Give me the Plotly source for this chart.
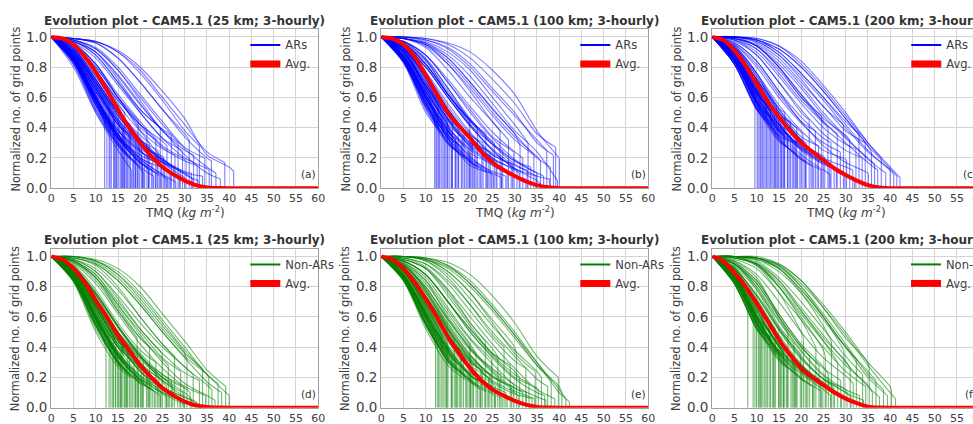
import plotly.graph_objects as go

# ---------------- data ----------------
# Each curve: [x where it drops to 0, y just before the drop, y(5), y(10), y(15), ...]
# (y values sampled every 5 kg m-2 below the drop; every curve starts at y(0)=1)
ar_25 = [
    [12.0,0.45,0.88,0.62],[12.5,0.40,0.85,0.58],[13.0,0.55,0.93,0.70],[13.5,0.35,0.82,0.52],
    [14.0,0.48,0.90,0.66],[14.5,0.30,0.80,0.50],[15.2,0.42,0.92,0.68,0.44],[16.0,0.38,0.87,0.64,0.43],
    [16.5,0.50,0.95,0.78,0.56],[17.0,0.30,0.84,0.57,0.36],[17.8,0.42,0.93,0.72,0.50],[18.0,0.12,0.82,0.50,0.25],
    [18.5,0.25,0.86,0.58,0.35],[19.0,0.35,0.90,0.70,0.48],[19.5,0.45,0.96,0.82,0.60],
    [20.3,0.28,0.88,0.64,0.42,0.29],[20.8,0.10,0.84,0.52,0.28,0.13],[21.0,0.22,0.85,0.60,0.38,0.25],
    [21.5,0.38,0.94,0.78,0.58,0.42],[22.0,0.30,0.91,0.70,0.50,0.35],[22.8,0.18,0.83,0.55,0.33,0.22],
    [23.0,0.08,0.86,0.55,0.30,0.14],[23.5,0.32,0.95,0.80,0.60,0.40],[24.0,0.25,0.92,0.72,0.50,0.32],
    [24.5,0.40,0.98,0.90,0.72,0.52],[25.3,0.20,0.89,0.66,0.44,0.28,0.21],[25.8,0.06,0.87,0.58,0.33,0.17,0.08],
    [26.0,0.28,0.94,0.78,0.58,0.42,0.31],[26.5,0.15,0.86,0.60,0.38,0.24,0.17],[27.0,0.35,0.97,0.88,0.70,0.52,0.39],
    [27.8,0.22,0.93,0.76,0.55,0.38,0.26],[28.0,0.04,0.88,0.60,0.35,0.19,0.09],[28.5,0.30,0.98,0.92,0.78,0.58,0.38],
    [29.0,0.12,0.88,0.64,0.42,0.27,0.17],[29.5,0.25,0.96,0.86,0.68,0.50,0.33],
    [30.3,0.18,0.95,0.82,0.62,0.44,0.28,0.19],[31.0,0.32,0.99,0.96,0.86,0.70,0.52,0.36],
    [31.5,0.10,0.90,0.70,0.48,0.30,0.19,0.11],[32.0,0.22,0.97,0.90,0.75,0.56,0.38,0.25],
    [32.8,0.15,0.94,0.80,0.60,0.42,0.27,0.18],[33.0,0.05,0.95,0.82,0.60,0.38,0.20,0.09],
    [33.3,0.28,0.99,0.97,0.90,0.76,0.58,0.38],[34.0,0.08,0.92,0.74,0.52,0.32,0.18,0.10],
    [34.5,0.20,0.98,0.93,0.80,0.62,0.44,0.27],[35.5,0.12,0.97,0.88,0.70,0.50,0.33,0.20,0.13],
    [36.0,0.18,0.99,0.96,0.86,0.70,0.52,0.34,0.20],[37.0,0.10,0.98,0.92,0.78,0.60,0.42,0.26,0.14],
    [38.0,0.06,0.97,0.90,0.74,0.55,0.38,0.22,0.10],[39.0,0.17,0.99,0.97,0.90,0.78,0.60,0.42,0.24],
    [41.0,0.11,0.99,0.97,0.91,0.80,0.64,0.46,0.22,0.14],
    [13.2,0.42,0.86,0.60],[14.8,0.36,0.85,0.58],[15.6,0.33,0.87,0.60,0.36],[16.8,0.28,0.85,0.57,0.33],
    [17.5,0.36,0.89,0.66,0.42],[18.8,0.22,0.86,0.60,0.34],[19.8,0.30,0.90,0.68,0.45],
    [20.5,0.20,0.87,0.62,0.38,0.22],[21.8,0.26,0.90,0.68,0.46,0.29],[22.5,0.16,0.86,0.60,0.36,0.20],
    [23.8,0.20,0.89,0.66,0.44,0.26],[24.8,0.14,0.87,0.62,0.39,0.20],[25.5,0.16,0.90,0.70,0.48,0.30,0.18],
    [26.8,0.10,0.88,0.64,0.40,0.24,0.14],[27.5,0.13,0.91,0.72,0.50,0.32,0.19],[28.8,0.08,0.89,0.66,0.42,0.25,0.14],
    [30.0,0.07,0.91,0.72,0.50,0.31,0.17],[31.8,0.06,0.92,0.74,0.52,0.33,0.19,0.10],
    [16.2,0.40,0.90,0.70,0.46],[14.2,0.45,0.90,0.68],
    [15.8,0.28,0.84,0.55,0.31],[17.2,0.22,0.83,0.54,0.29],[18.3,0.18,0.84,0.55,0.28],[19.4,0.16,0.85,0.57,0.30],
    [20.6,0.14,0.85,0.58,0.32,0.16],[21.9,0.12,0.86,0.59,0.33,0.17],[23.4,0.10,0.85,0.58,0.33,0.17],
    [24.4,0.08,0.86,0.60,0.35,0.18],[26.2,0.06,0.87,0.61,0.36,0.19,0.09],[14.6,0.34,0.84,0.56],
    [16.4,0.30,0.85,0.57,0.34],[19.0,0.20,0.86,0.60,0.34],
]
ar_100 = [
    [12.0,0.50,0.90,0.65],[12.3,0.42,0.86,0.58],[12.8,0.55,0.94,0.72],[13.2,0.38,0.84,0.53],
    [13.6,0.47,0.91,0.66],[14.2,0.34,0.83,0.50],[14.8,0.44,0.92,0.67],[15.4,0.40,0.90,0.64,0.42],
    [16.0,0.48,0.95,0.76,0.52],[16.7,0.33,0.87,0.60,0.37],[17.3,0.42,0.93,0.72,0.48],[18.0,0.28,0.86,0.57,0.34],
    [18.6,0.38,0.92,0.70,0.46],[19.2,0.20,0.84,0.52,0.29],[19.8,0.45,0.97,0.85,0.62],
    [20.5,0.32,0.90,0.68,0.48,0.33],[21.0,0.24,0.87,0.60,0.40,0.26],[21.6,0.40,0.96,0.82,0.62,0.44],
    [22.3,0.14,0.85,0.54,0.31,0.17],[22.9,0.30,0.93,0.74,0.52,0.35],[23.5,0.36,0.97,0.86,0.66,0.45],
    [24.2,0.22,0.90,0.66,0.44,0.28],[24.8,0.10,0.86,0.56,0.32,0.15],
    [25.4,0.30,0.96,0.82,0.62,0.45,0.31],[26.0,0.18,0.90,0.68,0.46,0.30,0.20],[26.7,0.38,0.99,0.93,0.78,0.60,0.44],
    [27.3,0.25,0.95,0.80,0.60,0.42,0.29],[28.0,0.08,0.88,0.62,0.38,0.20,0.11],[28.6,0.32,0.99,0.95,0.82,0.64,0.44],
    [29.2,0.16,0.93,0.74,0.52,0.34,0.22],[29.8,0.24,0.97,0.88,0.70,0.52,0.34],
    [30.5,0.12,0.92,0.72,0.50,0.32,0.19,0.13],[31.2,0.28,0.99,0.96,0.86,0.70,0.52,0.36],
    [31.8,0.20,0.97,0.88,0.72,0.54,0.37,0.24],[32.5,0.06,0.90,0.68,0.45,0.27,0.15,0.08],
    [33.0,0.30,1.00,0.97,0.90,0.78,0.60,0.42],[33.6,0.14,0.95,0.82,0.62,0.44,0.29,0.18],
    [34.3,0.22,0.99,0.94,0.82,0.66,0.48,0.32],[35.0,0.10,0.96,0.85,0.66,0.46,0.30,0.18],
    [35.8,0.18,0.99,0.95,0.84,0.68,0.50,0.34,0.21],[36.5,0.08,0.97,0.88,0.70,0.50,0.33,0.19,0.10],
    [37.2,0.25,1.00,0.98,0.92,0.80,0.64,0.48,0.32],[38.0,0.14,0.99,0.95,0.86,0.70,0.53,0.36,0.20],
    [38.7,0.22,1.00,0.98,0.93,0.82,0.66,0.50,0.30],[39.2,0.27,1.00,0.99,0.95,0.86,0.72,0.56,0.36],
    [39.6,0.05,0.99,0.96,0.88,0.74,0.56,0.38,0.24],[40.0,0.20,1.00,0.99,0.96,0.90,0.78,0.62,0.38],
    [36.0,0.02,0.95,0.82,0.62,0.42,0.25,0.13,0.05],
    [12.5,0.46,0.88,0.62],[13.9,0.40,0.87,0.60],[15.0,0.42,0.89,0.64],[15.9,0.36,0.88,0.62,0.39],
    [17.0,0.30,0.86,0.59,0.35],[18.2,0.34,0.90,0.66,0.42],[19.5,0.26,0.88,0.62,0.38],
    [20.2,0.32,0.91,0.70,0.48,0.33],[21.3,0.22,0.88,0.64,0.40,0.25],[22.6,0.26,0.91,0.70,0.48,0.30],
    [23.7,0.18,0.88,0.64,0.41,0.23],[24.5,0.24,0.92,0.74,0.52,0.32],[25.8,0.16,0.90,0.68,0.46,0.29,0.19],
    [27.0,0.20,0.93,0.76,0.54,0.36,0.23],[28.3,0.12,0.90,0.68,0.45,0.28,0.16],[29.5,0.16,0.93,0.77,0.56,0.37,0.22],
    [31.0,0.10,0.92,0.74,0.52,0.34,0.20,0.12],[32.8,0.12,0.94,0.80,0.60,0.41,0.26,0.15],
    [34.8,0.08,0.94,0.80,0.60,0.41,0.25,0.13],[37.8,0.06,0.95,0.84,0.64,0.45,0.29,0.16,0.08],
    [13.0,0.40,0.84,0.56],[14.5,0.36,0.84,0.55],[15.8,0.30,0.84,0.56,0.33],[17.4,0.24,0.83,0.54,0.30],
    [18.8,0.20,0.84,0.56,0.30],[20.8,0.16,0.85,0.58,0.33,0.18],[22.0,0.13,0.85,0.58,0.33,0.17],
    [23.9,0.10,0.86,0.60,0.35,0.18],[25.2,0.08,0.87,0.61,0.36,0.19,0.09],[27.0,0.07,0.87,0.62,0.38,0.21,0.10],
    [16.6,0.32,0.86,0.60,0.37],[19.9,0.22,0.86,0.60,0.35],
]
ar_200 = [
    [9.6,0.60,0.88],[10.2,0.55,0.86,0.57],[10.8,0.62,0.90,0.66],[11.3,0.50,0.85,0.56],
    [11.9,0.58,0.91,0.65],[12.5,0.45,0.84,0.54],[13.1,0.52,0.89,0.63],[13.7,0.40,0.85,0.55],
    [14.4,0.55,0.93,0.72],[15.0,0.47,0.90,0.64],
    [15.7,0.38,0.87,0.60,0.40],[16.3,0.50,0.94,0.76,0.53],[17.0,0.35,0.88,0.62,0.39],[17.6,0.44,0.92,0.72,0.48],
    [18.3,0.30,0.86,0.58,0.35],[19.0,0.40,0.94,0.76,0.50],[19.7,0.26,0.88,0.62,0.38],
    [20.4,0.36,0.93,0.74,0.52,0.37],[21.1,0.30,0.91,0.70,0.48,0.32],[21.8,0.45,0.98,0.88,0.70,0.50],
    [22.5,0.22,0.88,0.64,0.42,0.27],[23.2,0.38,0.96,0.84,0.64,0.44],[23.9,0.28,0.93,0.74,0.52,0.34],
    [24.6,0.48,1.00,0.94,0.80,0.60],
    [25.3,0.20,0.90,0.68,0.46,0.30,0.21],[26.0,0.40,0.99,0.92,0.76,0.58,0.43],[26.7,0.30,0.96,0.84,0.64,0.47,0.33],
    [27.4,0.14,0.88,0.64,0.42,0.26,0.17],[28.1,0.36,0.99,0.94,0.80,0.62,0.44],[28.8,0.24,0.95,0.80,0.60,0.43,0.30],
    [29.5,0.42,1.00,0.97,0.88,0.72,0.54],
    [30.2,0.18,0.93,0.76,0.55,0.38,0.25,0.19],[30.9,0.32,0.99,0.94,0.80,0.62,0.46,0.35],
    [31.6,0.12,0.90,0.70,0.48,0.31,0.20,0.14],[32.3,0.26,0.98,0.90,0.74,0.56,0.40,0.29],
    [33.0,0.36,1.00,0.98,0.90,0.76,0.60,0.44],[33.7,0.20,0.97,0.88,0.70,0.52,0.36,0.25],
    [34.4,0.30,1.00,0.96,0.86,0.70,0.54,0.38],
    [35.1,0.09,0.95,0.82,0.62,0.44,0.28,0.17,0.10],[35.8,0.24,1.00,0.98,0.92,0.80,0.64,0.46,0.28],
    [36.5,0.16,0.99,0.94,0.82,0.66,0.48,0.33,0.20],[37.2,0.12,0.98,0.92,0.78,0.60,0.44,0.30,0.17],
    [38.0,0.20,1.00,0.99,0.94,0.84,0.68,0.50,0.30],[39.0,0.10,0.99,0.95,0.84,0.68,0.50,0.34,0.19],
    [40.0,0.12,1.00,0.98,0.90,0.76,0.60,0.42,0.25],
    [40.8,0.09,1.00,0.97,0.88,0.74,0.58,0.40,0.24,0.12],[41.5,0.08,1.00,0.98,0.92,0.80,0.64,0.46,0.28,0.13],
    [42.2,0.07,1.00,0.99,0.94,0.82,0.66,0.48,0.30,0.14],
    [10.5,0.58,0.85,0.60],[11.6,0.52,0.84,0.58],[12.2,0.56,0.88,0.62],[13.4,0.46,0.84,0.56],
    [14.0,0.50,0.88,0.62],[14.7,0.42,0.85,0.57],[15.4,0.44,0.88,0.63,0.45],[16.0,0.40,0.86,0.60,0.42],
    [16.9,0.36,0.87,0.62,0.40],[18.0,0.32,0.86,0.60,0.38],[18.8,0.34,0.89,0.66,0.43],[20.0,0.28,0.88,0.63,0.40],
    [20.8,0.28,0.90,0.68,0.46,0.30],[22.2,0.24,0.88,0.64,0.42,0.27],[23.6,0.20,0.89,0.66,0.44,0.26],
    [24.9,0.16,0.88,0.64,0.42,0.25],[26.3,0.16,0.90,0.70,0.48,0.30,0.19],[27.9,0.12,0.90,0.68,0.46,0.28,0.16],
    [29.8,0.10,0.91,0.72,0.50,0.32,0.17],[32.0,0.06,0.91,0.72,0.50,0.32,0.18,0.09],
    [11.0,0.50,0.82,0.53],[12.8,0.44,0.82,0.52],[14.2,0.38,0.82,0.52],[15.5,0.32,0.82,0.52,0.34],
    [17.3,0.26,0.82,0.53,0.31],[19.2,0.22,0.83,0.55,0.32],[21.0,0.18,0.84,0.56,0.33,0.19],
    [22.8,0.14,0.84,0.57,0.34,0.19],[24.4,0.12,0.85,0.58,0.36,0.20],[26.5,0.09,0.86,0.60,0.38,0.22,0.12],
    [16.2,0.36,0.84,0.56,0.38],[18.6,0.30,0.85,0.59,0.37],
]
nonar_25 = [
    [12.3,0.40,0.87,0.58],[13.0,0.48,0.90,0.64],[13.8,0.34,0.84,0.52],[14.5,0.44,0.92,0.66],
    [15.2,0.30,0.85,0.55,0.32],[15.8,0.46,0.94,0.74,0.50],[16.5,0.26,0.84,0.54,0.31],[17.2,0.40,0.92,0.70,0.46],
    [17.9,0.20,0.83,0.50,0.27],[18.6,0.36,0.91,0.68,0.44],[19.3,0.46,0.97,0.86,0.64],[20.0,0.16,0.84,0.54,0.30],
    [20.7,0.32,0.92,0.72,0.50,0.34],[21.4,0.24,0.88,0.62,0.40,0.27],[22.1,0.40,0.97,0.86,0.66,0.46],
    [22.8,0.12,0.84,0.54,0.30,0.16],[23.5,0.30,0.94,0.78,0.56,0.38],[24.2,0.20,0.90,0.66,0.44,0.28],
    [24.9,0.36,0.98,0.90,0.72,0.52],
    [25.6,0.10,0.86,0.58,0.34,0.19,0.12],[26.3,0.28,0.96,0.84,0.64,0.46,0.32],[27.0,0.18,0.92,0.72,0.50,0.33,0.22],
    [27.7,0.34,0.99,0.94,0.80,0.60,0.42],[28.4,0.06,0.87,0.60,0.36,0.19,0.10],[29.1,0.24,0.97,0.88,0.68,0.50,0.33],
    [29.8,0.14,0.93,0.76,0.54,0.36,0.22],[30.0,0.02,0.90,0.68,0.44,0.24,0.10],
    [30.5,0.30,1.00,0.97,0.88,0.72,0.54,0.36],[31.2,0.10,0.92,0.72,0.50,0.32,0.20,0.13],
    [31.9,0.22,0.98,0.90,0.74,0.56,0.40,0.27],[32.6,0.04,0.89,0.66,0.42,0.24,0.13,0.07],
    [33.3,0.18,0.97,0.88,0.70,0.52,0.36,0.23],[33.5,0.02,0.93,0.76,0.54,0.34,0.18,0.07],
    [34.0,0.26,1.00,0.96,0.86,0.70,0.52,0.36],[34.7,0.08,0.95,0.82,0.62,0.42,0.26,0.14],
    [35.4,0.20,0.99,0.95,0.84,0.68,0.50,0.34,0.22],[36.1,0.12,0.98,0.92,0.78,0.60,0.42,0.27,0.15],
    [36.8,0.05,0.96,0.86,0.68,0.48,0.30,0.16,0.08],[37.5,0.16,1.00,0.97,0.88,0.74,0.56,0.38,0.22],
    [38.3,0.10,0.99,0.95,0.84,0.68,0.50,0.33,0.17],[39.2,0.14,1.00,0.98,0.92,0.80,0.62,0.44,0.25],
    [40.0,0.08,1.00,0.97,0.90,0.76,0.58,0.40,0.22],
    [13.4,0.42,0.88,0.60],[14.9,0.36,0.87,0.58],[15.5,0.38,0.89,0.64,0.40],[16.9,0.30,0.87,0.60,0.36],
    [17.6,0.34,0.90,0.67,0.42],[18.9,0.24,0.87,0.61,0.35],[19.6,0.30,0.91,0.70,0.46],
    [20.3,0.24,0.89,0.64,0.40,0.26],[21.7,0.24,0.91,0.70,0.47,0.30],[22.4,0.16,0.88,0.62,0.37,0.21],
    [23.9,0.18,0.90,0.68,0.45,0.27],[24.6,0.14,0.88,0.64,0.40,0.21],[25.9,0.14,0.91,0.72,0.49,0.30,0.17],
    [26.6,0.10,0.89,0.66,0.42,0.24,0.13],[27.3,0.14,0.92,0.75,0.53,0.34,0.20],[28.9,0.08,0.90,0.69,0.45,0.26,0.14],
    [29.6,0.10,0.92,0.75,0.53,0.34,0.18],[31.5,0.06,0.93,0.76,0.54,0.35,0.20,0.10],
    [16.1,0.42,0.91,0.72,0.47],[14.0,0.46,0.91,0.68],
    [15.6,0.28,0.85,0.56,0.30],[17.0,0.24,0.84,0.55,0.29],[18.2,0.20,0.85,0.56,0.29],[19.5,0.18,0.86,0.58,0.31],
    [20.5,0.16,0.86,0.59,0.33,0.18],[21.9,0.13,0.87,0.60,0.34,0.18],[23.2,0.11,0.86,0.59,0.34,0.17],
    [24.5,0.08,0.87,0.61,0.35,0.18],[26.0,0.07,0.88,0.62,0.37,0.20,0.09],[14.4,0.36,0.85,0.57],
    [16.6,0.30,0.86,0.58,0.34],[19.0,0.22,0.87,0.61,0.35],
]
nonar_100 = [
    [12.2,0.44,0.88,0.60],[12.9,0.38,0.86,0.55],[13.6,0.48,0.92,0.68],[14.3,0.34,0.85,0.54],
    [15.0,0.42,0.91,0.65],[15.7,0.30,0.86,0.57,0.34],[16.4,0.45,0.95,0.78,0.52],[17.1,0.24,0.85,0.55,0.31],
    [17.8,0.38,0.92,0.72,0.46],[18.5,0.30,0.89,0.64,0.39],[19.2,0.18,0.84,0.52,0.28],[19.9,0.42,0.96,0.84,0.60],
    [20.6,0.28,0.91,0.70,0.48,0.31],[21.3,0.36,0.95,0.82,0.62,0.42],[22.0,0.14,0.85,0.56,0.32,0.18],
    [22.7,0.26,0.92,0.74,0.52,0.33],[23.4,0.44,0.99,0.93,0.78,0.56],[24.1,0.20,0.90,0.68,0.46,0.28],
    [24.8,0.32,0.96,0.86,0.66,0.46],
    [25.5,0.12,0.88,0.62,0.38,0.21,0.14],[26.2,0.34,0.98,0.92,0.76,0.56,0.39],[26.9,0.22,0.94,0.78,0.56,0.38,0.26],
    [27.6,0.40,1.00,0.97,0.86,0.68,0.48],[28.3,0.08,0.88,0.64,0.40,0.22,0.12],[29.0,0.28,0.98,0.92,0.74,0.54,0.36],
    [29.7,0.16,0.94,0.80,0.58,0.40,0.25],
    [30.4,0.34,1.00,0.98,0.90,0.76,0.58,0.40],[31.1,0.20,0.97,0.88,0.70,0.52,0.36,0.24],
    [31.8,0.10,0.93,0.76,0.54,0.35,0.21,0.13],[32.5,0.26,0.99,0.95,0.82,0.64,0.46,0.31],
    [33.2,0.16,0.97,0.88,0.70,0.52,0.35,0.22],[33.9,0.06,0.92,0.74,0.52,0.32,0.17,0.09],
    [34.6,0.24,1.00,0.98,0.90,0.76,0.56,0.36],
    [35.3,0.12,0.97,0.88,0.70,0.50,0.34,0.20,0.13],[36.0,0.20,1.00,0.97,0.88,0.72,0.54,0.38,0.24],
    [36.7,0.08,0.97,0.88,0.70,0.50,0.33,0.19,0.10],[37.4,0.14,0.99,0.95,0.84,0.68,0.50,0.34,0.19],
    [38.2,0.18,1.00,0.99,0.94,0.82,0.66,0.48,0.28],[39.0,0.06,0.98,0.92,0.78,0.60,0.42,0.26,0.12],
    [39.8,0.20,1.00,0.99,0.96,0.88,0.74,0.56,0.34],
    [40.6,0.10,1.00,0.98,0.92,0.80,0.64,0.46,0.28,0.14],[41.5,0.06,1.00,0.98,0.93,0.82,0.66,0.48,0.30,0.12],
    [42.3,0.04,1.00,0.99,0.94,0.84,0.68,0.50,0.30,0.10],
    [12.6,0.44,0.88,0.62],[13.9,0.40,0.87,0.59],[14.6,0.44,0.90,0.66],[15.9,0.34,0.87,0.60,0.38],
    [16.8,0.30,0.86,0.58,0.35],[18.1,0.32,0.90,0.66,0.41],[19.5,0.24,0.88,0.61,0.36],
    [20.2,0.30,0.91,0.69,0.46,0.31],[21.6,0.20,0.88,0.63,0.39,0.23],[22.4,0.26,0.91,0.70,0.47,0.30],
    [23.3,0.16,0.88,0.63,0.40,0.21],[24.4,0.22,0.92,0.73,0.50,0.30],[25.7,0.14,0.90,0.67,0.44,0.26,0.16],
    [26.6,0.18,0.93,0.76,0.53,0.34,0.21],[28.0,0.10,0.90,0.68,0.44,0.26,0.14],[29.3,0.14,0.93,0.77,0.55,0.35,0.20],
    [30.8,0.08,0.92,0.74,0.51,0.32,0.18,0.10],[32.6,0.10,0.94,0.79,0.58,0.39,0.24,0.13],
    [34.5,0.06,0.94,0.80,0.59,0.39,0.23,0.11],[37.0,0.05,0.95,0.84,0.64,0.45,0.29,0.15,0.07],
    [13.2,0.40,0.85,0.56],[14.7,0.34,0.84,0.55],[15.9,0.28,0.84,0.55,0.31],[17.5,0.24,0.85,0.56,0.30],
    [19.0,0.20,0.85,0.57,0.31],[20.7,0.16,0.86,0.59,0.33,0.18],[22.3,0.12,0.86,0.59,0.33,0.17],
    [23.8,0.10,0.87,0.61,0.35,0.18],[25.4,0.08,0.87,0.62,0.37,0.19,0.09],[27.2,0.06,0.88,0.63,0.38,0.21,0.10],
    [16.8,0.32,0.87,0.61,0.37],[20.0,0.22,0.87,0.61,0.36],
]
nonar_200 = [
    [8.0,0.70,0.90],[9.2,0.62,0.87],[10.0,0.58,0.86],
    [10.7,0.52,0.85,0.56],[11.4,0.60,0.91,0.66],[12.1,0.46,0.85,0.54],[12.8,0.56,0.92,0.68],
    [13.5,0.42,0.86,0.56],[14.2,0.52,0.93,0.72],[14.9,0.36,0.86,0.56],
    [15.6,0.46,0.92,0.70,0.48],[16.3,0.32,0.87,0.60,0.36],[17.0,0.50,0.97,0.86,0.60],[17.7,0.28,0.88,0.62,0.36],
    [18.4,0.42,0.95,0.80,0.54],[19.1,0.24,0.87,0.60,0.35],[19.8,0.36,0.95,0.78,0.52],
    [20.5,0.46,1.00,0.94,0.76,0.50],[21.2,0.22,0.90,0.68,0.44,0.27],[21.9,0.34,0.96,0.84,0.62,0.41],
    [22.6,0.18,0.88,0.64,0.40,0.24],[23.3,0.40,1.00,0.95,0.80,0.58],[24.0,0.28,0.95,0.82,0.60,0.40],
    [24.7,0.14,0.88,0.64,0.40,0.23],
    [25.4,0.34,0.99,0.95,0.80,0.60,0.38],[26.1,0.22,0.96,0.84,0.62,0.42,0.27],[26.8,0.44,1.00,0.99,0.92,0.76,0.54],
    [27.5,0.12,0.90,0.70,0.46,0.28,0.17],[28.2,0.30,1.00,0.96,0.84,0.64,0.44],[28.9,0.18,0.95,0.82,0.60,0.40,0.26],
    [29.6,0.38,1.00,0.99,0.94,0.80,0.60],
    [30.3,0.10,0.92,0.74,0.52,0.33,0.19,0.12],[31.0,0.26,0.99,0.95,0.82,0.64,0.46,0.31],
    [31.7,0.16,0.97,0.88,0.70,0.50,0.33,0.21],[32.4,0.32,1.00,0.99,0.92,0.78,0.60,0.40],
    [33.1,0.08,0.94,0.80,0.58,0.38,0.22,0.12],[33.8,0.22,1.00,0.97,0.86,0.70,0.52,0.34],
    [34.5,0.14,0.98,0.92,0.76,0.58,0.40,0.24],
    [35.3,0.26,1.00,1.00,0.95,0.84,0.66,0.46,0.30],[36.0,0.10,0.99,0.94,0.80,0.62,0.44,0.28,0.15],
    [36.8,0.18,1.00,0.98,0.90,0.76,0.58,0.40,0.24],[37.6,0.07,0.99,0.95,0.84,0.66,0.48,0.30,0.14],
    [38.5,0.12,1.00,0.99,0.93,0.80,0.62,0.42,0.22],[39.4,0.08,1.00,0.98,0.92,0.78,0.60,0.40,0.20],
    [40.3,0.10,1.00,0.99,0.95,0.84,0.68,0.50,0.30,0.14],[41.2,0.06,1.00,0.99,0.94,0.82,0.66,0.48,0.28,0.10],
    [9.6,0.64,0.86],[10.4,0.56,0.84,0.58],[11.1,0.54,0.86,0.60],[11.8,0.48,0.83,0.55],
    [13.1,0.50,0.87,0.61],[13.9,0.44,0.85,0.57],[15.2,0.40,0.86,0.60,0.42],[16.0,0.38,0.87,0.62,0.41],
    [16.7,0.34,0.86,0.59,0.37],[18.0,0.34,0.89,0.66,0.42],[18.7,0.28,0.87,0.61,0.36],
    [20.1,0.26,0.89,0.65,0.41,0.27],[21.5,0.24,0.90,0.68,0.45,0.28],[22.9,0.18,0.88,0.64,0.41,0.24],
    [24.3,0.18,0.90,0.69,0.46,0.28],[25.6,0.14,0.90,0.68,0.45,0.27,0.16],[27.2,0.14,0.92,0.74,0.51,0.32,0.19],
    [29.0,0.09,0.91,0.71,0.48,0.29,0.15],[31.2,0.07,0.92,0.75,0.53,0.34,0.19,0.10],
    [34.0,0.05,0.93,0.78,0.57,0.37,0.21,0.10],
    [10.8,0.50,0.82,0.53],[12.4,0.44,0.82,0.52],[13.8,0.38,0.82,0.52],[15.3,0.32,0.82,0.52,0.34],
    [17.0,0.26,0.82,0.53,0.31],[18.9,0.22,0.83,0.55,0.32],[20.9,0.17,0.84,0.56,0.33,0.19],
    [22.6,0.14,0.84,0.57,0.34,0.19],[24.5,0.11,0.85,0.58,0.36,0.20],[26.6,0.08,0.86,0.60,0.38,0.22,0.12],
    [16.0,0.36,0.84,0.56,0.38],[18.4,0.30,0.85,0.59,0.37],
]

# average curves
avg_x = [0, 2.5, 5, 7.5, 10, 12.5, 15, 17.5, 20, 22.5, 25, 27.5, 30, 32.5, 35, 37.5, 40, 45, 50, 55, 60]
avg_ar_25 = [1.0,0.99,0.95,0.87,0.77,0.65,0.52,0.40,0.30,0.21,0.14,0.09,0.05,0.02,0.005,0.001,0,0,0,0,0]
avg_ar_100 = [1.0,0.99,0.95,0.87,0.75,0.62,0.50,0.41,0.33,0.24,0.17,0.12,0.08,0.045,0.02,0.006,0,0,0,0,0]
avg_ar_200 = [1.0,0.98,0.91,0.81,0.69,0.57,0.47,0.38,0.30,0.24,0.185,0.13,0.087,0.05,0.02,0.005,0,0,0,0,0]
avg_nonar_25 = [1.0,0.98,0.92,0.83,0.71,0.60,0.48,0.38,0.28,0.20,0.13,0.08,0.04,0.015,0.005,0.001,0,0,0,0,0]
avg_nonar_100 = [1.0,0.98,0.92,0.83,0.72,0.60,0.47,0.36,0.26,0.18,0.12,0.08,0.045,0.02,0.005,0.001,0,0,0,0,0]
avg_nonar_200 = [1.0,0.97,0.89,0.80,0.69,0.57,0.45,0.35,0.26,0.20,0.15,0.10,0.06,0.03,0.007,0.001,0,0,0,0,0]

titles = ["Evolution plot - CAM5.1 (25 km; 3-hourly)", "Evolution plot - CAM5.1 (100 km; 3-hourly)",
          "Evolution plot - CAM5.1 (200 km; 3-hourly)"] * 2
panel_tags = ["(a)", "(b)", "(c)", "(d)", "(e)", "(f)"]
series_names = ["ARs"] * 3 + ["Non-ARs"] * 3
x_ticks = list(range(0, 61, 5))
y_ticks = [0.0, 0.2, 0.4, 0.6, 0.8, 1.0]

# ---------------- layout geometry (pixels) ----------------
W, H = 1000, 450
col_left = [48, 383, 719]
row_top = [29, 253]
PW, PH = 271, 162

FONT = "DejaVu Sans"
TXT = "#404040"

curves_all = [ar_25, ar_100, ar_200, nonar_25, nonar_100, nonar_200]
avgs_all = [avg_ar_25, avg_ar_100, avg_ar_200, avg_nonar_25, avg_nonar_100, avg_nonar_200]
colors_faint = ["rgba(0,0,255,0.5)"] * 3 + ["rgba(0,128,0,0.55)"] * 3
colors_full = ["#0000ff"] * 3 + ["#008000"] * 3


def curve_xy(curves):
    sx, sy, dx, dy = [], [], [], []
    for c in curves:
        cut, ycut, vals = c[0], c[1], c[2:]
        xs = [5 * i for i in range(len(vals) + 1)] + [cut]
        ys = [1.0] + list(vals) + [ycut]
        sx += xs + [None]
        sy += ys + [None]
        dx += [cut, cut, None]
        dy += [ycut, 0.0, None]
    return sx, sy, dx, dy


fig = go.Figure()
annotations = []
layout_axes = {}

for i in range(6):
    r, c = divmod(i, 3)
    k = i + 1
    xa = "x" if k == 1 else f"x{k}"
    ya = "y" if k == 1 else f"y{k}"
    lg = "legend" if k == 1 else f"legend{k}"
    left, top = col_left[c], row_top[r]

    sx, sy, dx, dy = curve_xy(curves_all[i])
    fig.add_trace(go.Scatter(x=sx, y=sy, mode="lines", xaxis=xa, yaxis=ya, showlegend=False,
                             line=dict(color=colors_faint[i], width=1.1, shape="spline", smoothing=0.8),
                             hoverinfo="skip"))
    fig.add_trace(go.Scatter(x=dx, y=dy, mode="lines", xaxis=xa, yaxis=ya, showlegend=False,
                             line=dict(color=colors_faint[i], width=1.1), hoverinfo="skip"))
    fig.add_trace(go.Scatter(x=avg_x, y=avgs_all[i], mode="lines", xaxis=xa, yaxis=ya, showlegend=False,
                             line=dict(color="#ff0000", width=4, shape="spline", smoothing=0.6),
                             hoverinfo="skip"))
    # legend entries
    fig.add_trace(go.Scatter(x=[None], y=[None], mode="lines", xaxis=xa, yaxis=ya, legend=lg,
                             name=series_names[i], line=dict(color=colors_full[i], width=2)))
    fig.add_trace(go.Scatter(x=[None], y=[None], mode="lines", xaxis=xa, yaxis=ya, legend=lg,
                             name="Avg.", line=dict(color="#ff0000", width=7)))

    axis_common = dict(showline=True, mirror=True, linecolor="#a0a0a0", linewidth=1.2,
                       showgrid=True, gridcolor="#d4d4d4", gridwidth=1, zeroline=False,
                       ticks="", fixedrange=True)
    layout_axes["xaxis" if k == 1 else f"xaxis{k}"] = dict(
        domain=[left / W, (left + PW) / W], anchor=ya, range=[0, 60],
        tickvals=x_ticks, ticktext=[str(v) for v in x_ticks],
        tickfont=dict(family=FONT, size=11, color=TXT), **axis_common)
    layout_axes["yaxis" if k == 1 else f"yaxis{k}"] = dict(
        domain=[1 - (top + PH) / H, 1 - top / H], anchor=xa, range=[0, 1.05],
        tickvals=y_ticks, ticktext=[f"{v:.1f}" for v in y_ticks],
        tickfont=dict(family=FONT, size=13.5, color=TXT), **axis_common)

    layout_axes[lg] = dict(x=(left + 197) / W, y=1 - (top + 1) / H, xanchor="left", yanchor="top",
                           bgcolor="rgba(0,0,0,0)", borderwidth=0,
                           font=dict(family=FONT, size=11.5, color=TXT), tracegroupgap=0)

    # title
    annotations.append(dict(text=f"<b>{titles[i]}</b>", xref="paper", yref="paper",
                            x=(left + PW / 2) / W, y=1 - (top - 9) / H, xanchor="center", yanchor="middle",
                            showarrow=False, font=dict(family=FONT, size=12, color="#333333")))
    # y title
    annotations.append(dict(text="Normalized no. of grid points", xref="paper", yref="paper",
                            x=(left - 36) / W, y=1 - (top + PH / 2) / H, xanchor="center", yanchor="middle",
                            textangle=-90, showarrow=False, font=dict(family=FONT, size=11.4, color=TXT)))
    # x title (only the top row's is inside the visible picture)
    if r == 0:
        annotations.append(dict(text="TMQ (<i>kg m</i><sup>-2</sup>)", xref="paper", yref="paper",
                                x=(left + PW / 2) / W, y=1 - (top + PH + 24) / H, xanchor="center",
                                yanchor="middle", showarrow=False, font=dict(family=FONT, size=12, color=TXT)))
    # panel tag
    annotations.append(dict(text=panel_tags[i], xref="paper", yref="paper",
                            x=(left + PW) / W, y=1 - (top + PH - 14) / H, xanchor="right", yanchor="middle",
                            showarrow=False, font=dict(family=FONT, size=10.5, color="#333333")))

fig.update_layout(
    width=W, height=H, margin=dict(l=0, r=0, t=0, b=0),
    paper_bgcolor="white", plot_bgcolor="white",
    annotations=annotations, **layout_axes,
)

fig.write_html("out.html", config={"displayModeBar": False},
               post_script="document.documentElement.style.overflow='hidden';"
                           "document.body.style.overflow='hidden';document.body.style.margin='0';")
